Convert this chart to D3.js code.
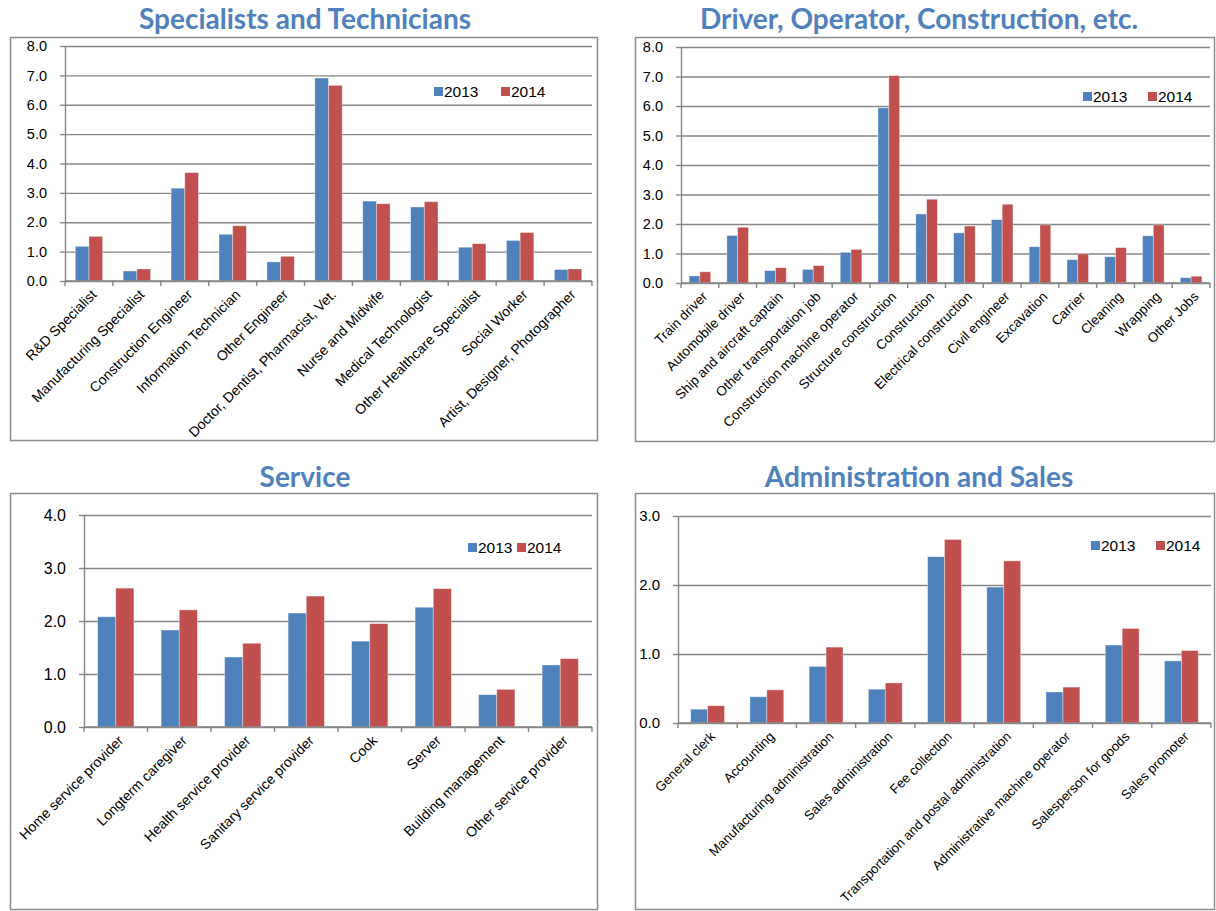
<!DOCTYPE html>
<html>
<head>
<meta charset="utf-8">
<script src="https://cdn.jsdelivr.net/npm/d3@7"></script>
<style>
  html, body { margin: 0; padding: 0; background: #fff; }
  svg { display: block; }
</style>
</head>
<body>
<svg id="chart" width="1216" height="911"></svg>
<script>
// ---------------- DATA ----------------
const seriesNames = ["2013", "2014"];

const specTitle = "Specialists and Technicians";
const specCategories = ["R&D Specialist", "Manufacturing Specialist", "Construction Engineer", "Information Technician", "Other Engineer", "Doctor, Dentist, Pharmacist, Vet.", "Nurse and Midwife", "Medical Technologist", "Other Healthcare Specialist", "Social Worker", "Artist, Designer, Photographer"];
const spec2013 = [1.18, 0.34, 3.16, 1.59, 0.65, 6.91, 2.72, 2.52, 1.15, 1.38, 0.39];
const spec2014 = [1.52, 0.41, 3.69, 1.88, 0.84, 6.66, 2.63, 2.70, 1.27, 1.65, 0.41];
const specTicks = [0, 1, 2, 3, 4, 5, 6, 7, 8];

const drvTitle = "Driver, Operator, Construction, etc.";
const drvCategories = ["Train driver", "Automobile driver", "Ship and aircraft captain", "Other transportation job", "Construction machine operator", "Structure construction", "Construction", "Electrical construction", "Civil engineer", "Excavation", "Carrier", "Cleaning", "Wrapping", "Other Jobs"];
const drv2013 = [0.24, 1.61, 0.42, 0.46, 1.04, 5.94, 2.34, 1.70, 2.15, 1.23, 0.79, 0.89, 1.60, 0.18];
const drv2014 = [0.38, 1.89, 0.52, 0.59, 1.14, 7.03, 2.84, 1.93, 2.67, 1.97, 0.99, 1.20, 1.97, 0.23];
const drvTicks = [0, 1, 2, 3, 4, 5, 6, 7, 8];

const svcTitle = "Service";
const svcCategories = ["Home service provider", "Longterm caregiver", "Health service provider", "Sanitary service provider", "Cook", "Server", "Building management", "Other service provider"];
const svc2013 = [2.08, 1.83, 1.32, 2.15, 1.62, 2.26, 0.61, 1.17];
const svc2014 = [2.62, 2.21, 1.58, 2.47, 1.95, 2.61, 0.71, 1.29];
const svcTicks = [0, 1, 2, 3, 4];

const admTitle = "Administration and Sales";
const admCategories = ["General clerk", "Accounting", "Manufacturing administration", "Sales administration", "Fee collection", "Transportation and postal administration", "Administrative machine operator", "Salesperson for goods", "Sales promoter"];
const adm2013 = [0.20, 0.38, 0.82, 0.49, 2.41, 1.97, 0.45, 1.13, 0.90];
const adm2014 = [0.25, 0.48, 1.10, 0.58, 2.66, 2.35, 0.52, 1.37, 1.05];
const admTicks = [0, 1, 2, 3];

// ---------------- LAYOUT ----------------
const colors = { "2013": "#4F81BD", "2014": "#C0504D" };
const gridColor = "#868686";

const panels = [
  { title: specTitle, cats: specCategories, s1: spec2013, s2: spec2014, ticks: specTicks,
    box: [10, 37, 597, 440], titleX: 305, titleY: 29,
    plot: { x0: 65, x1: 592, y0: 281, y1: 46 }, yFont: 14.5, xFont: 14,
    legend: { x: 434, y: 87, gap: 67 } },
  { title: drvTitle, cats: drvCategories, s1: drv2013, s2: drv2014, ticks: drvTicks,
    box: [635, 37, 1214, 441], titleX: 919, titleY: 29,
    plot: { x0: 681, x1: 1210, y0: 283, y1: 47 }, yFont: 14.5, xFont: 13.5,
    legend: { x: 1083, y: 92, gap: 65 } },
  { title: svcTitle, cats: svcCategories, s1: svc2013, s2: svc2014, ticks: svcTicks,
    box: [10, 493, 597, 909], titleX: 305, titleY: 487,
    plot: { x0: 84, x1: 592, y0: 727, y1: 515 }, yFont: 16, xFont: 14,
    legend: { x: 468, y: 543, gap: 49 } },
  { title: admTitle, cats: admCategories, s1: adm2013, s2: adm2014, ticks: admTicks,
    box: [635, 493, 1214, 909], titleX: 919, titleY: 487,
    plot: { x0: 678, x1: 1211, y0: 723, y1: 516 }, yFont: 15, xFont: 13.2,
    legend: { x: 1091, y: 541, gap: 65 } }
];

const svg = d3.select("#chart");
svg.append("rect").attr("width", 1216).attr("height", 911).attr("fill", "#fff");

function drawPanel(p) {
  const g = svg.append("g");
  // frame
  g.append("rect")
    .attr("x", p.box[0] + 0.5).attr("y", p.box[1] + 0.5)
    .attr("width", p.box[2] - p.box[0]).attr("height", p.box[3] - p.box[1])
    .attr("fill", "#fff").attr("stroke", "#8c8c8c").attr("stroke-width", 1.5);

  // title
  svg.append("text")
    .attr("x", p.titleX).attr("y", p.titleY)
    .attr("text-anchor", "middle")
    .attr("font-family", "Lato, 'Open Sans', sans-serif")
    .attr("font-weight", 700)
    .attr("font-size", 28)
    .attr("fill", "#4F81BD")
    .text(p.title);

  const ymax = d3.max(p.ticks);
  const x0 = d3.scaleBand().domain(p.cats).range([p.plot.x0, p.plot.x1]).paddingInner(0).paddingOuter(0);
  const xs = d3.scaleBand().domain(seriesNames).range([0, x0.bandwidth()]).paddingInner(0).paddingOuter(0.75);
  const y = d3.scaleLinear().domain([0, ymax]).range([p.plot.y0, p.plot.y1]);

  // grid lines
  const grid = g.append("g").attr("transform", `translate(${p.plot.x0},0)`)
    .call(d3.axisLeft(y).tickValues(p.ticks).tickSize(-(p.plot.x1 - p.plot.x0)).tickFormat(""));
  grid.select(".domain").remove();
  grid.selectAll("line").attr("stroke", gridColor).attr("stroke-width", 1.4);

  // y axis
  const ya = g.append("g").attr("transform", `translate(${p.plot.x0},0)`)
    .call(d3.axisLeft(y).tickValues(p.ticks).tickSizeInner(5).tickSizeOuter(0).tickPadding(13).tickFormat(d3.format(".1f")));
  ya.select(".domain").attr("stroke", gridColor).attr("stroke-width", 1.4);
  ya.selectAll("line").attr("stroke", gridColor).attr("stroke-width", 1.4);
  ya.selectAll("text").attr("font-family", "'Liberation Sans', Arial, sans-serif")
    .attr("font-size", p.yFont).attr("fill", "#000");

  // bars
  const rows = p.cats.map((c, i) => ({ cat: c, vals: [{ s: "2013", v: p.s1[i] }, { s: "2014", v: p.s2[i] }] }));
  const grp = g.selectAll("g.cat").data(rows).enter().append("g")
    .attr("transform", d => `translate(${x0(d.cat)},0)`);
  grp.selectAll("rect").data(d => d.vals).enter().append("rect")
    .attr("x", d => xs(d.s))
    .attr("y", d => y(d.v))
    .attr("width", xs.bandwidth())
    .attr("height", d => y(0) - y(d.v))
    .attr("fill", d => colors[d.s])
    .attr("stroke", "rgba(255,255,255,0.45)")
    .attr("stroke-width", 0.8);

  // x axis line + boundary ticks
  const xa = g.append("g").attr("transform", `translate(0,${p.plot.y0})`);
  xa.append("line").attr("x1", p.plot.x0).attr("x2", p.plot.x1).attr("y1", 0).attr("y2", 0)
    .attr("stroke", gridColor).attr("stroke-width", 1.4);
  const bounds = p.cats.map(c => x0(c)).concat([x0.range()[1]]);
  xa.selectAll("line.tk").data(bounds).enter().append("line").attr("class", "tk")
    .attr("x1", d => d).attr("x2", d => d).attr("y1", 0).attr("y2", 5)
    .attr("stroke", gridColor).attr("stroke-width", 1.4);
  xa.selectAll("text.lbl").data(p.cats).enter().append("text").attr("class", "lbl")
    .attr("transform", d => `translate(${x0(d) + x0.bandwidth() / 2 + 5},${11}) rotate(-45)`)
    .attr("text-anchor", "end")
    .attr("dy", "0.35em")
    .attr("font-family", "'Liberation Sans', Arial, sans-serif")
    .attr("font-size", p.xFont)
    .attr("fill", "#000")
    .text(d => d);

  // legend
  const lg = g.append("g").attr("transform", `translate(${p.legend.x},${p.legend.y})`);
  seriesNames.forEach((s, i) => {
    const it = lg.append("g").attr("transform", `translate(${i * p.legend.gap},0)`);
    it.append("rect").attr("x", 0).attr("y", 0).attr("width", 9).attr("height", 9).attr("fill", colors[s]);
    it.append("text").attr("x", 10).attr("y", 10)
      .attr("font-family", "'Liberation Sans', Arial, sans-serif")
      .attr("font-size", 15.5).attr("fill", "#000").text(s);
  });
}

panels.forEach(drawPanel);
</script>
</body>
</html>
